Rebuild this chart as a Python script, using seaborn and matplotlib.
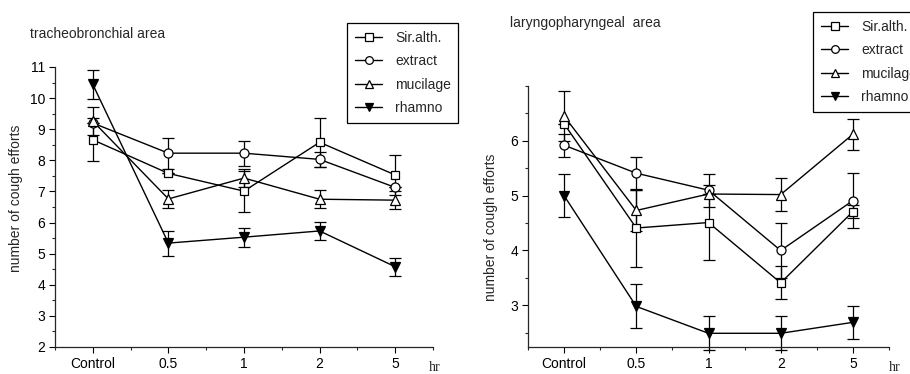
import numpy as np
import pandas as pd
import matplotlib
matplotlib.use("Agg")
import matplotlib.pyplot as plt
import seaborn as sns
from matplotlib.ticker import MultipleLocator

sns.set_style("ticks")
plt.rcParams['font.family'] = ['Liberation Sans', 'DejaVu Sans']

# ---- data ----
times = ["Control", "0.5", "1", "2", "5"]
series = ["Sir.alth.", "extract", "mucilage", "rhamno"]

# tracheobronchial area
tb_sir = [8.66, 7.58, 7.01, 8.58, 7.53]
tb_sir_err = [0.69, 0.0, 0.66, 0.79, 0.64]
tb_ext = [9.20, 8.23, 8.23, 8.03, 7.13]
tb_ext_err = [0.0, 0.50, 0.40, 0.23, 0.0]
tb_muc = [9.26, 6.76, 7.43, 6.75, 6.72]
tb_muc_err = [0.45, 0.28, 0.28, 0.29, 0.28]
tb_rha = [10.44, 5.34, 5.53, 5.73, 4.58]
tb_rha_err = [0.47, 0.40, 0.30, 0.30, 0.29]

# laryngopharyngeal area
lp_sir = [6.31, 4.41, 4.51, 3.41, 4.71]
lp_sir_err = [0.0, 0.71, 0.69, 0.30, 0.12]
lp_ext = [5.92, 5.41, 5.10, 4.00, 4.91]
lp_ext_err = [0.21, 0.30, 0.30, 0.50, 0.50]
lp_muc = [6.45, 4.73, 5.03, 5.02, 6.12]
lp_muc_err = [0.45, 0.37, 0.0, 0.30, 0.28]
lp_rha = [5.00, 2.98, 2.49, 2.49, 2.69]
lp_rha_err = [0.39, 0.40, 0.31, 0.31, 0.30]

markers = {"Sir.alth.": "s", "extract": "o", "mucilage": "^", "rhamno": "v"}
msizes = {"Sir.alth.": 6, "extract": 6.5, "mucilage": 7, "rhamno": 7.5}
faces = {"Sir.alth.": "white", "extract": "white", "mucilage": "white", "rhamno": "black"}

W, H = 910, 374
fig = plt.figure(figsize=(W / 100, H / 100), dpi=100)

def frac_box(x0, x1, ytop, ybot):
    return [x0 / W, 1 - ybot / H, (x1 - x0) / W, (ybot - ytop) / H]

ax1 = fig.add_axes(frac_box(55, 433, 67, 347))
ax2 = fig.add_axes(frac_box(528, 889, 86, 347))

pos = np.arange(len(times))

def draw(ax, vals, errs):
    for name, v, e in zip(series, vals, errs):
        ax.errorbar(pos, v, yerr=e, fmt="none", ecolor="black", elinewidth=0.9,
                    capsize=4, capthick=0.9, zorder=2, clip_on=False)
        df = pd.DataFrame({"time": pos, "value": v})
        sns.lineplot(data=df, x="time", y="value", ax=ax, color="black",
                     linewidth=1.0, marker=markers[name], markersize=msizes[name],
                     markerfacecolor=faces[name], markeredgecolor="black",
                     markeredgewidth=0.9, label=name, legend=False, zorder=3,
                     clip_on=False)
    ax.set_xlim(-0.5, 4.5)
    ax.set_xticks(pos)
    ax.set_xticklabels(times)
    ax.xaxis.set_minor_locator(MultipleLocator(0.5))
    ax.yaxis.set_minor_locator(MultipleLocator(0.5))
    for s in ["top", "right"]:
        ax.spines[s].set_visible(False)
    for s in ["left", "bottom"]:
        ax.spines[s].set_linewidth(0.9)
    ax.tick_params(axis="both", which="major", direction="out", length=4,
                   width=0.8, labelsize=10, colors="black", pad=3)
    ax.tick_params(axis="both", which="minor", direction="out", length=2.5,
                   width=0.8)
    ax.set_xlabel("")
    ax.set_ylabel("number of cough efforts", fontsize=10)
    ax.set_facecolor("white")

draw(ax1, [tb_sir, tb_ext, tb_muc, tb_rha],
     [tb_sir_err, tb_ext_err, tb_muc_err, tb_rha_err])
ax1.set_ylim(2, 11)
ax1.set_yticks(range(2, 12))
ax1.yaxis.set_label_coords(-0.085, 0.53)

draw(ax2, [lp_sir, lp_ext, lp_muc, lp_rha],
     [lp_sir_err, lp_ext_err, lp_muc_err, lp_rha_err])
ax2.set_ylim(2.24, 7.0)
ax2.set_yticks([3, 4, 5, 6])
ax2.yaxis.set_label_coords(-0.083, 0.46)

# titles and units
fig.text(30 / W, 1 - 38 / H, "tracheobronchial area", fontsize=10, ha="left", va="baseline")
fig.text(510 / W, 1 - 27 / H, "laryngopharyngeal  area", fontsize=10, ha="left", va="baseline")
for x in (429, 889):
    fig.text(x / W, 1 - 371 / H, "hr", fontsize=10, ha="left", va="baseline",
             family=["Liberation Serif", "DejaVu Serif"])

# legends
for ax, (lx, ly) in ((ax1, (347, 23)), (ax2, (813, 12))):
    h, l = ax.get_legend_handles_labels()
    leg = fig.legend(h, l, loc="upper left", bbox_to_anchor=(lx / W, 1 - ly / H),
                     bbox_transform=fig.transFigure, fontsize=10, frameon=True,
                     fancybox=False, edgecolor="black", framealpha=1,
                     borderaxespad=0, borderpad=0.55, labelspacing=0.68,
                     handlelength=2.0, handletextpad=0.9, numpoints=1,
                     markerscale=0.85)
    leg.get_frame().set_linewidth(0.9)

fig.savefig("out.png", dpi=100, facecolor="white")
